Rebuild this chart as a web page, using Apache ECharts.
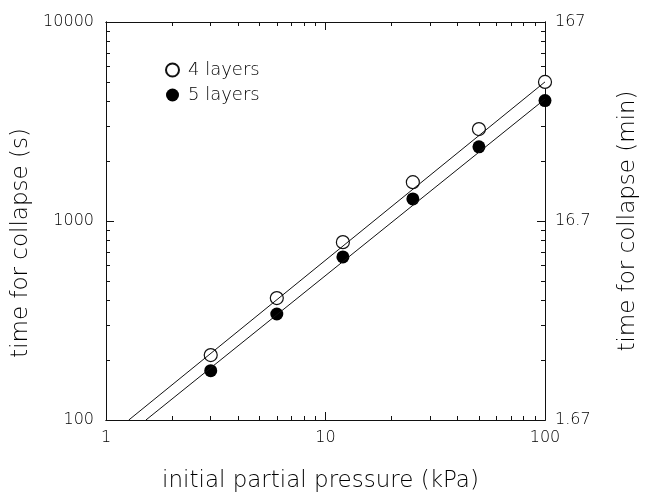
<!DOCTYPE html>
<html>
<head>
<meta charset="utf-8">
<script src="https://cdn.jsdelivr.net/npm/echarts@6/dist/echarts.min.js"></script>
<style>
  html, body { margin: 0; padding: 0; background: #fff; }
  #Chart { width: 650px; height: 498px; }
</style>
</head>
<body>
<div id="Chart"></div>
<script>
// data
var pressure = [3, 6, 12, 25, 50, 100];            // kPa
var layers4 = [212, 410, 783, 1567, 2896, 5000];   // s, open circles
var layers5 = [177, 341, 660, 1291, 2360, 4027];   // s, filled circles
// fitted lines (end points)
var fit4x = [1.27, 100], fit4y = [100, 5000];
var fit5x = [1.52, 100], fit5y = [100, 4100];

// ticks
var xMajor = [1, 10, 100];
var xMinor = [2, 3, 4, 5, 6, 7, 8, 9, 20, 30, 40, 50, 60, 70, 80, 90];
var yMajor = [100, 1000, 10000];
var yMinor = [200, 300, 400, 500, 600, 700, 800, 900, 2000, 3000, 4000, 5000, 6000, 7000, 8000, 9000];
var rightLabels = ['1.67', '16.7', '167'];   // minutes

var txt = '#000';
var font = 'DejaVu Sans';
var weight = 200;

function pairs(xs, ys) {
    var out = [];
    for (var i = 0; i < xs.length; i++) out.push([xs[i], ys[i]]);
    return out;
}

function axis(pos, min, max, ticks, len, showLabel, extra) {
    var a = {
        type: 'log',
        logBase: 10,
        position: pos,
        min: min,
        max: max,
        axisLine: { show: true, onZero: false, lineStyle: { color: '#111', width: 1 } },
        axisTick: { show: true, inside: true, length: len, customValues: ticks, lineStyle: { color: '#111' } },
        axisLabel: { show: showLabel, customValues: ticks },
        splitLine: { show: false }
    };
    for (var k in extra) a[k] = extra[k];
    return a;
}

function tickLabel(ticks, margin, fmt) {
    return {
        show: true, customValues: ticks, color: txt, fontFamily: font, fontWeight: weight,
        fontSize: 16, margin: margin, formatter: fmt
    };
}

function titleStyle(pad) {
    return { fontFamily: font, fontWeight: weight, fontSize: 23, color: txt, padding: pad };
}

var myChart = echarts.init(document.getElementById('Chart'));
var option = {
    animation: false,
    backgroundColor: '#fff',
    grid: { left: 106, right: 105, top: 22, bottom: 71 },
    legend: {
        data: ['4 layers', '5 layers'],
        orient: 'vertical',
        left: 160,
        top: 56,
        itemGap: 7,
        itemWidth: 13,
        itemHeight: 13,
        icon: 'circle',
        textStyle: { fontFamily: font, fontWeight: weight, fontSize: 18, lineHeight: 18, color: txt, padding: [0, 0, 0, 4] }
    },
    xAxis: [
        axis('bottom', 1, 100, xMajor, 8, true, {
            name: 'initial partial pressure (kPa)',
            nameLocation: 'middle',
            nameGap: 50,
            nameTextStyle: titleStyle([0, 10, 0, 0]),
            axisLabel: tickLabel(xMajor, 10, function (v) { return String(Math.round(v)); })
        }),
        axis('bottom', 1, 100, xMinor, 4, false, {}),
        axis('top', 1, 100, xMajor, 8, false, {}),
        axis('top', 1, 100, xMinor, 4, false, {})
    ],
    yAxis: [
        axis('left', 100, 10000, yMajor, 8, true, {
            name: 'time for collapse (s)',
            nameLocation: 'middle',
            nameGap: 60,
            nameTextStyle: titleStyle([0, 44, 0, 0]),
            axisLabel: tickLabel(yMajor, 12, function (v) { return String(Math.round(v)); })
        }),
        axis('left', 100, 10000, yMinor, 4, false, {}),
        axis('right', 100, 10000, yMajor, 8, true, {
            name: 'time for collapse (min)',
            nameLocation: 'middle',
            nameGap: 72,
            nameRotate: 90,
            nameTextStyle: titleStyle([0, 0, 0, 0]),
            axisLabel: tickLabel(yMajor, 10, function (v) {
                var i = yMajor.indexOf(Math.round(v));
                return i >= 0 ? rightLabels[i] : '';
            })
        }),
        axis('right', 100, 10000, yMinor, 4, false, {})
    ],
    series: [
        {
            name: 'fit4',
            type: 'line',
            data: pairs(fit4x, fit4y),
            symbol: 'none',
            silent: true,
            lineStyle: { color: '#111', width: 1 }
        },
        {
            name: 'fit5',
            type: 'line',
            data: pairs(fit5x, fit5y),
            symbol: 'none',
            silent: true,
            lineStyle: { color: '#111', width: 1 }
        },
        {
            name: '4 layers',
            type: 'scatter',
            data: pairs(pressure, layers4),
            symbol: 'circle',
            symbolSize: 13,
            itemStyle: { color: '#fff', borderColor: '#111', borderWidth: 1.2, opacity: 1 }
        },
        {
            name: '5 layers',
            type: 'scatter',
            data: pairs(pressure, layers5),
            symbol: 'circle',
            symbolSize: 13,
            itemStyle: { color: '#000', opacity: 1 }
        }
    ]
};
myChart.setOption(option);
window.addEventListener('resize', function () {
    myChart.resize();
});
</script>
</body>
</html>
